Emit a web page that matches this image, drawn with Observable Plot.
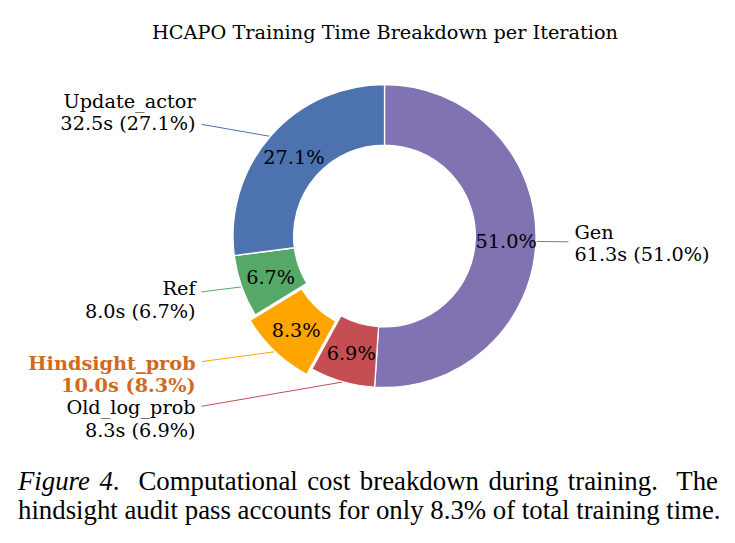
<!DOCTYPE html>
<html>
<head>
<meta charset="utf-8">
<script src="https://cdn.jsdelivr.net/npm/d3@7"></script>
<script src="https://cdn.jsdelivr.net/npm/@observablehq/plot@0.6"></script>
<style>
  body { margin: 0; background: #fff; }
  #wrap { position: relative; width: 735px; height: 543px; overflow: hidden; }
  #chart { position: absolute; left: 0; top: 0; }
  #caption {
    position: absolute; left: 18px; top: 467px; width: 700px;
    font-family: "Liberation Serif", "Times New Roman", serif;
    font-size: 26.8px; line-height: 29px; color: #000;
  }
  #caption .l1 { text-align: justify; text-align-last: justify; }
  #caption .l2 { text-align: left; white-space: nowrap; }
</style>
</head>
<body>
<div id="wrap">
  <div id="chart"></div>
  <div id="caption">
    <div class="l1"><i>Figure 4</i>.&nbsp; Computational cost breakdown during training.&nbsp; The</div>
    <div class="l2">hindsight audit pass accounts for only 8.3% of total training time.</div>
  </div>
</div>
<script>
// Per-iteration wall-clock time of each training stage (seconds)
const stages  = ["Gen", "Old_log_prob", "Hindsight_prob", "Ref", "Update_actor"];
const seconds = [61.3, 8.3, 10.0, 8.0, 32.5];
const colors  = ["#8172b2", "#c44e52", "#ffa500", "#55a868", "#4c72b0"];
const explode = [0, 0, 0.05, 0, 0];
const highlight = "Hindsight_prob";
const titleText = "HCAPO Training Time Breakdown per Iteration";

// Layout: everything is measured in units of the outer radius
const W = 735, H = 455;
const CX = 384.5, CY = 236, RPX = 151.5;      // donut centre and outer radius, px
const INNER = 0.6, PCT_DIST = 0.8, LABEL_DIST = 1.25;
const FONT = "DejaVu Serif", FS = 19.3;

const total = d3.sum(seconds);
const pie = d3.pie().sort(null).value(d => d.seconds);
const slices = pie(stages.map((name, i) => ({name, seconds: seconds[i], color: colors[i], explode: explode[i]})))
  .map(a => {
    const mid = (a.startAngle + a.endAngle) / 2;
    const dx = Math.sin(mid), dy = Math.cos(mid);
    return {
      ...a.data,
      startAngle: a.startAngle, endAngle: a.endAngle,
      dx, dy,
      ox: a.data.explode * dx, oy: a.data.explode * dy,
      pct: 100 * a.data.seconds / total
    };
  });

// text measurement for the leader lines (they stop at the label's box)
const ctx = document.createElement("canvas").getContext("2d");
function textWidth(s, bold) {
  ctx.font = `${bold ? "bold " : ""}${FS}px "${FONT}"`;
  return d3.max(s.split("\n"), l => ctx.measureText(l).width);
}
const labelOf = d => `${d.name}\n${d.seconds.toFixed(1)}s (${d.pct.toFixed(1)}%)`;
const GAP = 6 / RPX;
for (const d of slices) {
  const side = Math.sign(d.dx);
  const hw = textWidth(labelOf(d), d.name === highlight) / 2 / RPX;
  d.side = side;
  d.lx = side * LABEL_DIST;
  d.ly = LABEL_DIST * d.dy;
  d.ex = d.dx + d.ox; d.ey = d.dy + d.oy;           // point on the outer edge
  const xc = side * (LABEL_DIST + hw), yc = d.ly;    // label box centre
  d.sx = side * (LABEL_DIST - GAP);
  d.sy = yc + (d.ey - yc) * (d.sx - xc) / (d.ex - xc);
}

// donut wedges drawn through the plot's own x/y scales
function ring(data) {
  return Plot.dot(data, {
    x: "ox", y: "oy",
    render(index, scales, values) {
      const r = scales.x(1) - scales.x(0);
      const arc = d3.arc().innerRadius(INNER * r).outerRadius(r);
      const g = d3.create("svg:g");
      g.selectAll("path").data(index).join("path")
        .attr("transform", i => `translate(${values.x[i]},${values.y[i]})`)
        .attr("d", i => arc(data[i]))
        .attr("fill", i => data[i].color)
        .attr("stroke", "white")
        .attr("stroke-width", 1.3)
        .attr("stroke-linejoin", "round");
      return g.node();
    }
  });
}

const textOpts = {fontFamily: FONT, fontSize: FS, lineHeight: 1.15, lineAnchor: "middle", fill: "black"};

const chart = Plot.plot({
  width: W, height: H,
  margin: 0,
  x: {domain: [-CX / RPX, (W - CX) / RPX], range: [0, W], axis: null},
  y: {domain: [-(H - CY) / RPX, CY / RPX], range: [H, 0], axis: null},
  style: {background: "white", fontFamily: FONT, overflow: "visible"},
  marks: [
    Plot.text([titleText], {x: () => 0, y: () => (CY - 31.5) / RPX, text: d => d, ...textOpts}),
    Plot.link(slices, {x1: "sx", y1: "sy", x2: "ex", y2: "ey", stroke: "color", strokeWidth: 1}),
    ring(slices),
    Plot.text(slices, {
      x: d => PCT_DIST * d.dx + d.ox, y: d => PCT_DIST * d.dy + d.oy,
      text: d => d.pct.toFixed(1) + "%", ...textOpts
    }),
    Plot.text(slices.filter(d => d.side > 0), {x: "lx", y: "ly", text: labelOf, textAnchor: "start", ...textOpts}),
    Plot.text(slices.filter(d => d.side < 0 && d.name !== highlight), {x: "lx", y: "ly", text: labelOf, textAnchor: "end", ...textOpts}),
    Plot.text(slices.filter(d => d.name === highlight), {x: "lx", y: "ly", text: labelOf, textAnchor: "end", ...textOpts, fontWeight: "bold", fill: "#d2691e"})
  ]
});
document.getElementById("chart").appendChild(chart);
</script>
</body>
</html>
